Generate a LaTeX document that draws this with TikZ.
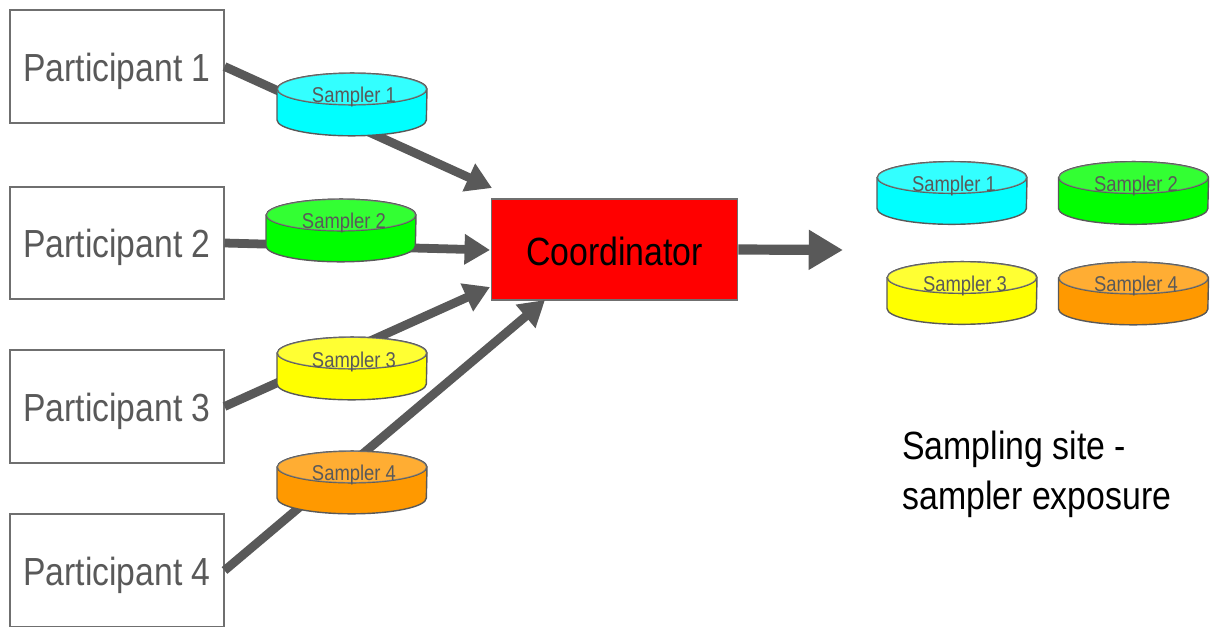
\documentclass[tikz,border=0pt]{standalone}
\usepackage{fontspec}
\setmainfont[FakeStretch=0.86]{Liberation Sans}
\usepackage[HTML]{xcolor}
\usetikzlibrary{positioning, arrows.meta}
\definecolor{linegrey}{HTML}{595959}
\definecolor{boxgrey}{HTML}{6F6F6F}
\definecolor{samplercyan}{HTML}{00FFFF}
\definecolor{samplergreen}{HTML}{00FF00}
\definecolor{sampleryellow}{HTML}{FFFF00}
\definecolor{samplerorange}{HTML}{FF9900}
\tikzset{
  participant/.style={draw=boxgrey, line width=0.9pt, fill=white, text=linegrey, minimum width=121.5pt, minimum height=64pt, inner sep=0pt, text height=21.6pt, text depth=4.6pt, font=\fontsize{22.3}{26}\selectfont},
  coordbox/.style={draw=boxgrey, line width=0.9pt, fill=red, text=black, minimum width=140pt, minimum height=57.2pt, inner sep=0pt, text height=18.4pt, text depth=0pt, font=\fontsize{22.4}{26}\selectfont},
  samplertext/.style={text=linegrey, inner sep=0pt, font=\fontsize{12.2}{14}\selectfont},
  flow/.style={draw=linegrey, line width=5pt, -{Triangle[length=14.5pt, width=16.5pt]}},
  bigflow/.style={draw=linegrey, line width=5.8pt, -{Triangle[length=19.5pt, width=21.5pt]}},
  disc/.pic={
    \path[pic actions, draw=linegrey, line width=0.8pt] (-75,-15.5) -- (-75,15.5) arc[start angle=180, end angle=360, x radius=42.5pt, y radius=9pt] -- (75,-15.5) arc[start angle=0, end angle=180, x radius=42.5pt, y radius=9pt] -- cycle;
    \path[pic actions, draw=linegrey, line width=0.8pt, fill opacity=1] (0,-15.5) ellipse[x radius=42.5pt, y radius=9pt];
    \fill[white, opacity=0.2] (0,-15.5) ellipse[x radius=42.5pt, y radius=9pt];
  }
}
\begin{document}
\begin{tikzpicture}[x=0.02cm, y=-0.02cm]
\useasboundingbox (0,0) rectangle (1211,626);

% --- Participants and coordinator ---
\node[participant] (part1) at (117,66.5) {Participant 1};
\node[participant] (part2) at (117,243) {Participant 2};
\node[participant] (part3) at (117,406.5) {Participant 3};
\node[participant] (part4) at (117,570.5) {Participant 4};
\node[coordbox] (coord) at (614.5,249.5) {Coordinator};

% --- Arrows, behind the samplers ---
\coordinate (in1) at (492,188);
\coordinate (in2) at (490,250);
\coordinate (in3) at (490,287);
\coordinate (in4) at (545,300);
\coordinate (site) at (843,250);
\draw[flow] (part1.east) -- (in1);
\draw[flow] (part2.east) -- (in2);
\draw[flow] (part3.east) -- (in3);
\draw[flow] (part4.east) -- (in4);
\draw[bigflow] (coord.east) -- (site);

% --- Samplers on the way ---
\pic[fill=samplercyan] (samp1) at (352,104.5) {disc};
\pic[fill=samplergreen] (samp2) at (341,230.5) {disc};
\pic[fill=sampleryellow] (samp3) at (352,368.5) {disc};
\pic[fill=samplerorange] (samp4) at (352,482.5) {disc};
\node[samplertext] (text1) at (354,97) {Sampler 1};
\node[samplertext] (text2) at (344,223) {Sampler 2};
\node[samplertext] (text3) at (354,362) {Sampler 3};
\node[samplertext] (text4) at (354,475) {Sampler 4};

% --- Samplers at the site ---
\pic[fill=samplercyan] (site1) at (952,193) {disc};
\pic[fill=samplergreen] (site2) at (1133.5,193) {disc};
\pic[fill=sampleryellow] (site3) at (962,293) {disc};
\pic[fill=samplerorange] (site4) at (1133.5,293.5) {disc};
\node[samplertext] (stext1) at (954,186) {Sampler 1};
\node[samplertext] (stext2) at (1136,186) {Sampler 2};
\node[samplertext] (stext3) at (965,286) {Sampler 3};
\node[samplertext] (stext4) at (1136,286) {Sampler 4};

\node[anchor=north west, align=left, inner sep=0pt, font=\fontsize{22.4}{28.2}\selectfont] (caption) at (902,431) {Sampling site -\\sampler exposure};
\end{tikzpicture}
\end{document}
